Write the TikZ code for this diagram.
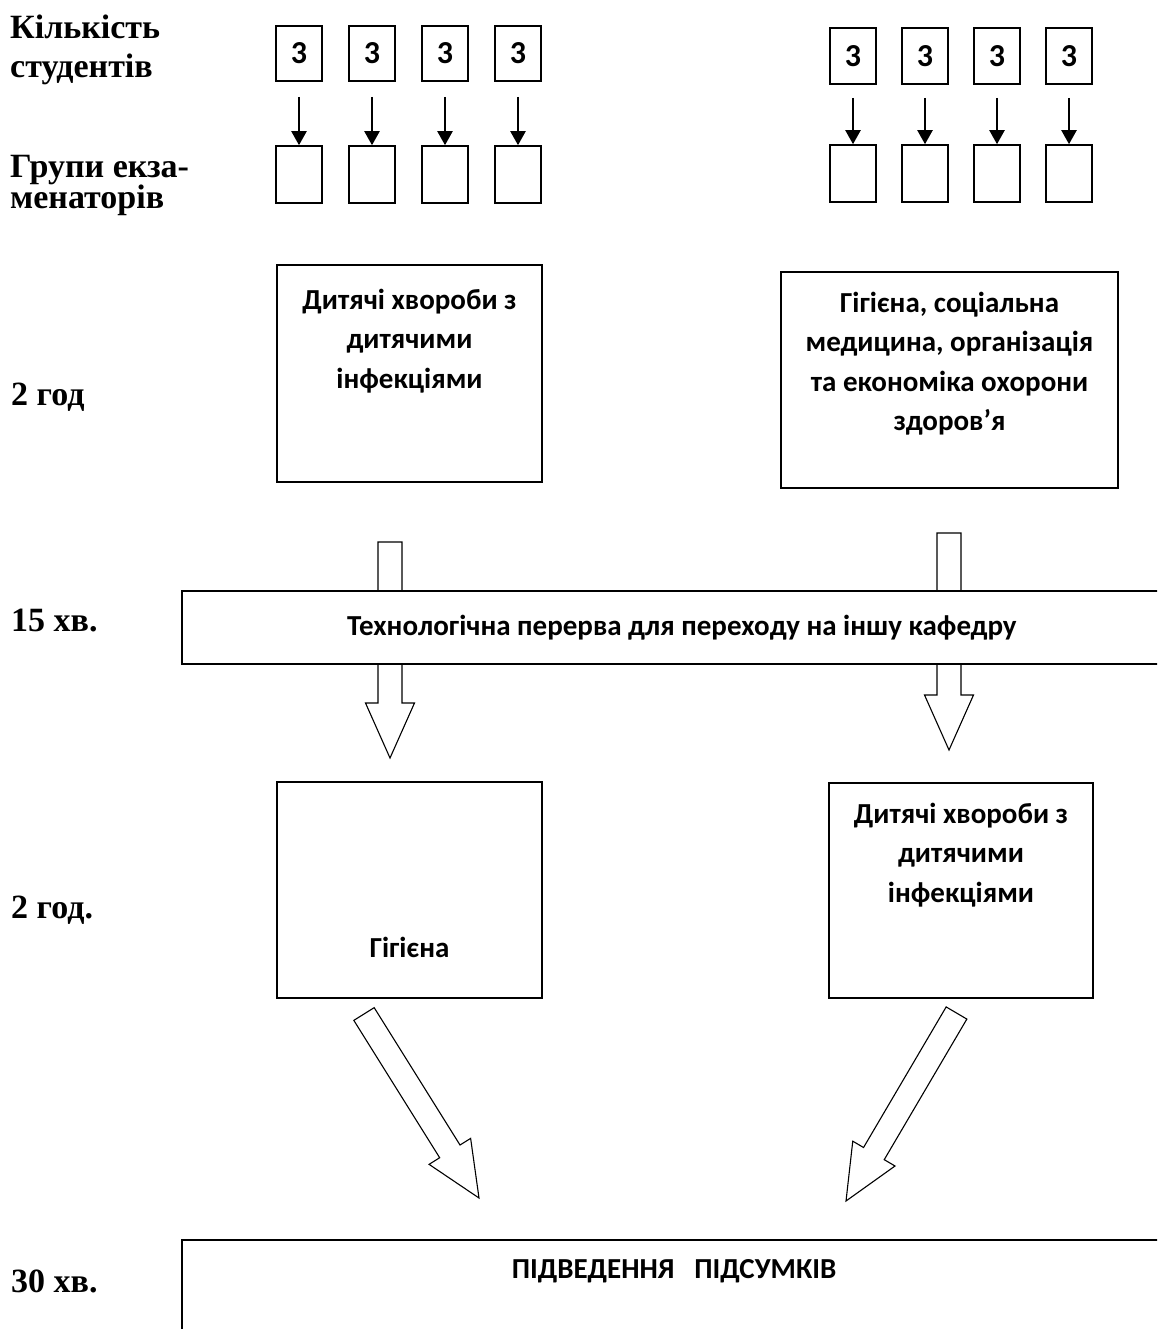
\documentclass[tikz,border=0pt]{standalone}
\usepackage{fontspec}
\setmainfont{Liberation Serif}
\newfontfamily\calfont{Carlito}
\usetikzlibrary{arrows.meta, calc}

\tikzset{
    box/.style = {draw, line width = 1.6pt, inner sep = 0pt},
    boxtext/.style = {font = \calfont\bfseries\fontsize{29}{39.5}\selectfont, align = center, inner sep = 0pt},
    digit/.style = {box, font = \calfont\bfseries\fontsize{32}{36}\selectfont},
    rowlabel/.style = {font = \bfseries\fontsize{34}{39}\selectfont, align = left, inner sep = 0pt},
    fatbody/.style = {draw, line width = 1.1pt, fill = white},
    thinarrow/.style = {line width = 2.2pt, -{Triangle[length = 14pt, width = 15pt]}},
}

\newcommand\fatarrow[2]{
    \path let \p1 = ($(#2) - (#1)$) in \pgfextra{
        \pgfmathsetmacro\arrang{atan2(\y1, \x1)}
        \pgfmathsetmacro\arrlen{veclen(\x1, \y1)}
        \global\let\arrang\arrang \global\let\arrlen\arrlen};
    \draw[fatbody, shift = {(#1)}, rotate = \arrang]
        (0, -12) -- (\arrlen - 55, -12) -- (\arrlen - 55, -24.5) -- (\arrlen, 0)
        -- (\arrlen - 55, 24.5) -- (\arrlen - 55, 12) -- (0, 12) -- cycle;
}

\begin{document}
\begin{tikzpicture}[x = 1pt, y = -1pt]
    \clip (0, 0) rectangle (1157, 1329);

    \node[rowlabel, anchor = north west] (lstud) at (10, 10.7) {\strut Кількість\\студентів};
    \node[rowlabel, anchor = north west] (lexam) at (10, 149.7) {\strut Групи екза-\\[-8pt]менаторів};
    \node[rowlabel, anchor = base west] (ltime1) at (11, 405) {2 год};
    \node[rowlabel, anchor = base west] (ltime2) at (11, 631) {15 хв.};
    \node[rowlabel, anchor = base west] (ltime3) at (11, 918) {2 год.};
    \node[rowlabel, anchor = base west] (ltime4) at (11, 1292) {30 хв.};

    \foreach \x [count = \i] in {299, 372, 445, 518} {
        \node[digit, minimum width = 46pt, minimum height = 55pt] (s\i) at (\x, 53.5) {3};
        \node[box, minimum width = 46pt, minimum height = 57pt] (g\i) at (\x, 174.5) {};
        \draw[thinarrow, shorten <= 15pt] (s\i) -- (g\i);
    }
    \foreach \x [count = \i from 5] in {853, 925, 997, 1069} {
        \node[digit, minimum width = 46pt, minimum height = 56pt] (s\i) at (\x, 56) {3};
        \node[box, minimum width = 46pt, minimum height = 57pt] (g\i) at (\x, 173.5) {};
        \draw[thinarrow, shorten <= 13pt] (s\i) -- (g\i);
    }

    \node[box, minimum width = 265pt, minimum height = 217pt] (dis1) at (409.5, 373.5) {};
    \node[boxtext, anchor = north] (dis1t) at (409.5, 281.4) {\strut Дитячі хвороби з\\дитячими\\інфекціями};
    \node[box, minimum width = 337pt, minimum height = 216pt] (dis2) at (949.5, 380) {};
    \node[boxtext, anchor = north] (dis2t) at (949.5, 284.4) {\strut Гігієна, соціальна\\медицина, організація\\та економіка охорони\\здоров’я};

    \coordinate (a1) at (390, 542);
    \coordinate (b1) at (390, 758);
    \coordinate (a2) at (949, 533);
    \coordinate (b2) at (949, 750);
    \fatarrow{a1}{b1}
    \fatarrow{a2}{b2}

    \node[box, boxtext, fill = white, minimum width = 1000pt, minimum height = 73pt, anchor = north west] (brk) at (181, 590) {Технологічна перерва для переходу на іншу кафедру};

    \node[box, minimum width = 265pt, minimum height = 216pt] (dis3) at (409.5, 890) {};
    \node[boxtext, anchor = base] (dis3t) at (409.5, 957) {Гігієна};
    \node[box, minimum width = 264pt, minimum height = 215pt] (dis4) at (961, 890.5) {};
    \node[boxtext, anchor = north] (dis4t) at (961, 795.4) {\strut Дитячі хвороби з\\дитячими\\інфекціями};

    \coordinate (a3) at (364, 1014);
    \coordinate (b3) at (479, 1198);
    \coordinate (a4) at (956.5, 1013);
    \coordinate (b4) at (846, 1201);
    \fatarrow{a3}{b3}
    \fatarrow{a4}{b4}

    \node[box, line width = 1.8pt, minimum width = 986pt, minimum height = 200pt, anchor = north west] (sum) at (181, 1239) {};
    \node[boxtext, anchor = base] (sumt) at (674, 1278) {ПІДВЕДЕННЯ\hspace{20pt}ПІДСУМКІВ};
\end{tikzpicture}
\end{document}
